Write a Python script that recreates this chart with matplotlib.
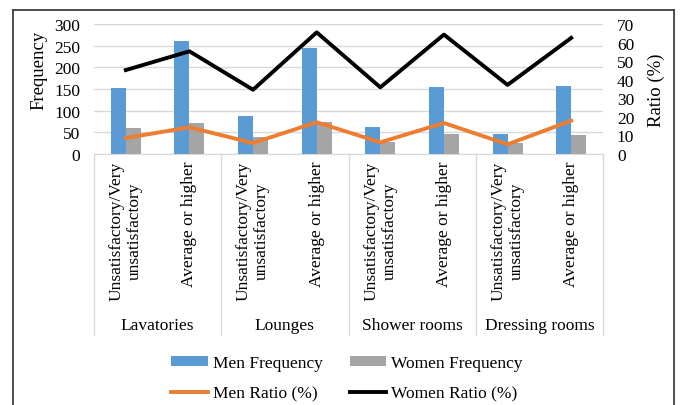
import matplotlib.pyplot as plt
import matplotlib.transforms as mtransforms
import numpy as np

# Data
groups = ['Lavatories', 'Lounges', 'Shower rooms', 'Dressing rooms']
levels = ['Unsatisfactory/Very\nunsatisfactory', 'Average or higher']
men_freq = [152, 261, 87, 245, 62, 154, 47, 158]
women_freq = [60, 72, 40, 73, 27, 47, 26, 45]
men_ratio = [8.6, 14.4, 5.9, 17.1, 6.3, 16.7, 5.2, 17.9]
women_ratio = [45.2, 55.3, 34.6, 65.5, 35.9, 64.3, 37.2, 62.5]

plt.rcParams['font.family'] = ['Liberation Serif', 'DejaVu Serif']
plt.rcParams['font.size'] = 12.5

fig = plt.figure(figsize=(6.81, 4.06), dpi=100)
ax = fig.add_axes([94 / 681, 1 - 155 / 406, (603 - 94) / 681, 130 / 406])
ax2 = ax.twinx()

x = np.arange(len(men_freq))
w = 0.236
b1 = ax.bar(x - w / 2, men_freq, w, color='#5B9BD5', label='Men Frequency', zorder=2)
b2 = ax.bar(x + w / 2, women_freq, w, color='#A5A5A5', label='Women Frequency', zorder=2)
l1, = ax2.plot(x, men_ratio, color='#ED7D31', lw=2.8, label='Men Ratio (%)')
l2, = ax2.plot(x, women_ratio, color='black', lw=2.8, label='Women Ratio (%)')

ax.set_xlim(-0.5, len(x) - 0.5)
ax.set_ylim(0, 300)
ax.set_yticks(range(0, 301, 50))
ax2.set_ylim(0, 70)
ax2.set_yticks(range(0, 71, 10))
ax.grid(axis='y', color='#D9D9D9', lw=1, zorder=0)
ax.set_axisbelow(True)

for a in (ax, ax2):
    for s in a.spines.values():
        s.set_visible(False)
    a.tick_params(length=0, pad=10)
ax.spines['bottom'].set_visible(True)
ax.spines['bottom'].set_color('#D9D9D9')
ax.set_xticks([])

ax.set_ylabel('Frequency', fontsize=13.5)
ax.yaxis.set_label_coords(-0.092, 0.654)
ax2.set_ylabel('Ratio (%)', fontsize=13.5)
ax2.yaxis.set_label_coords(1.088, 0.5)

# category axis: rotated level labels, group labels and separators
trans = mtransforms.blended_transform_factory(ax.transData, ax.transAxes)
for i in x:
    ax.text(i, -0.05, levels[i % 2], rotation=90, ha='center', va='top',
            multialignment='center', transform=trans)
for g, name in enumerate(groups):
    ax.text(2 * g + 0.5, -1.315, name, ha='center', va='center', transform=trans)
for b in np.arange(-0.5, len(x), 2):
    ax.plot([b, b], [0, -1.392], color='#D9D9D9', lw=1, transform=trans, clip_on=False)

# outer frame
for xs, ys in [([13, 13], [0, 395]), ([13, 674], [395, 395]), ([674, 674], [395, 0])]:
    fig.add_artist(plt.Line2D([v / 681 for v in xs], [v / 406 for v in ys],
                              color='#404040', lw=1.3))

fig.legend([b1, l1, b2, l2],
           ['Men Frequency', 'Men Ratio (%)', 'Women Frequency', 'Women Ratio (%)'],
           ncol=2, frameon=False, loc='center', bbox_to_anchor=(347 / 681, 1 - 379 / 406),
           handlelength=2.1, handleheight=0.45, columnspacing=1.55, labelspacing=0.8,
           handletextpad=0.3)

fig.savefig('out.png', dpi=100)
